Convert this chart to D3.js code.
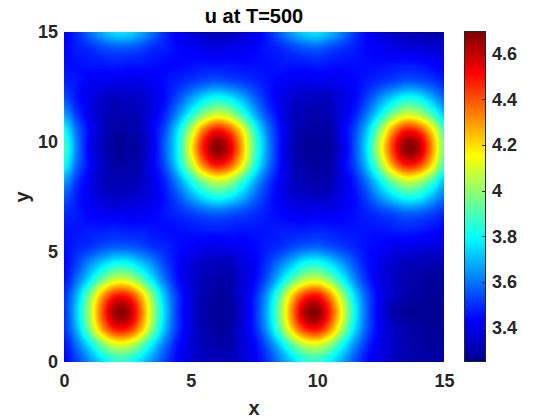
<!DOCTYPE html>
<html>
<head>
<meta charset="utf-8">
<style>
html,body{margin:0;padding:0;background:#fff;}
svg{display:block;}
text{font-family:"Liberation Sans",Arial,sans-serif;font-weight:bold;}
</style>
<script src="https://cdnjs.cloudflare.com/ajax/libs/d3/7.8.5/d3.min.js"></script>
</head>
<body>
<div id="chart"></div>
<script>
const titleText = "u at T=500";
const xLabel = "x";
const yLabel = "y";
const axisTicks = [0, 5, 10, 15];
const colorbarTicks = [3.4, 3.6, 3.8, 4, 4.2, 4.4, 4.6];
const colorDomain = [3.255, 4.695];
const jetStops = ["#00008f", "#0000ff", "#00ffff", "#ffff00", "#ff0000", "#800000"];
const jetPositions = [0, 0.125, 0.375, 0.625, 0.875, 1];
const xExtent = [0, 15];
const yExtent = [0, 15];
// u values. Columns run x = 0 to 15, rows run y = 0 (first) to 15 (last).
const uRows = [
[3.43,3.52,3.64,3.75,3.84,3.84,3.75,3.64,3.52,3.43,3.37,3.33,3.33,3.33,3.36,3.42,3.50,3.61,3.73,3.83,3.85,3.78,3.67,3.54,3.44,3.39,3.34,3.31,3.30,3.29,3.29],
[3.45,3.59,3.76,3.95,4.08,4.08,3.95,3.76,3.59,3.45,3.37,3.32,3.30,3.30,3.36,3.43,3.55,3.72,3.91,4.05,4.09,3.98,3.80,3.62,3.48,3.39,3.34,3.31,3.29,3.28,3.28],
[3.50,3.69,3.97,4.28,4.48,4.48,4.28,3.97,3.69,3.50,3.38,3.31,3.28,3.29,3.37,3.47,3.65,3.91,4.22,4.45,4.50,4.32,4.02,3.74,3.54,3.41,3.34,3.30,3.28,3.27,3.27],
[3.50,3.73,4.03,4.39,4.65,4.65,4.39,4.03,3.73,3.50,3.38,3.30,3.27,3.28,3.35,3.48,3.68,3.97,4.33,4.63,4.68,4.45,4.12,3.79,3.55,3.40,3.30,3.27,3.27,3.26,3.26],
[3.50,3.69,3.97,4.28,4.48,4.48,4.28,3.97,3.69,3.50,3.38,3.31,3.28,3.29,3.37,3.47,3.65,3.91,4.22,4.45,4.50,4.32,4.02,3.74,3.54,3.41,3.34,3.30,3.28,3.27,3.27],
[3.45,3.59,3.76,3.95,4.08,4.08,3.95,3.76,3.59,3.45,3.37,3.32,3.30,3.30,3.36,3.43,3.55,3.72,3.91,4.05,4.09,3.98,3.80,3.62,3.48,3.39,3.34,3.31,3.29,3.28,3.28],
[3.44,3.52,3.63,3.72,3.80,3.80,3.72,3.63,3.52,3.44,3.38,3.34,3.33,3.33,3.38,3.42,3.50,3.60,3.70,3.80,3.82,3.75,3.65,3.54,3.45,3.40,3.35,3.33,3.32,3.31,3.31],
[3.45,3.48,3.50,3.54,3.56,3.56,3.54,3.50,3.48,3.45,3.43,3.41,3.40,3.41,3.42,3.44,3.47,3.49,3.53,3.56,3.57,3.54,3.51,3.48,3.45,3.43,3.41,3.40,3.39,3.38,3.37],
[3.46,3.46,3.47,3.47,3.48,3.47,3.47,3.46,3.45,3.45,3.46,3.47,3.47,3.47,3.46,3.46,3.46,3.47,3.47,3.47,3.48,3.47,3.46,3.46,3.46,3.46,3.47,3.48,3.47,3.45,3.43],
[3.49,3.47,3.43,3.42,3.41,3.41,3.41,3.43,3.46,3.49,3.52,3.55,3.57,3.55,3.53,3.50,3.47,3.44,3.42,3.41,3.42,3.41,3.43,3.45,3.48,3.51,3.54,3.57,3.56,3.53,3.49],
[3.56,3.47,3.41,3.36,3.34,3.35,3.36,3.40,3.46,3.55,3.66,3.76,3.82,3.79,3.70,3.59,3.49,3.42,3.37,3.35,3.34,3.35,3.40,3.45,3.54,3.65,3.75,3.82,3.80,3.70,3.60],
[3.67,3.51,3.41,3.34,3.31,3.31,3.33,3.40,3.49,3.64,3.82,3.99,4.09,4.05,3.89,3.70,3.54,3.43,3.34,3.31,3.30,3.32,3.39,3.48,3.62,3.80,3.98,4.09,4.05,3.91,3.72],
[3.82,3.59,3.44,3.34,3.29,3.29,3.32,3.42,3.55,3.77,4.05,4.35,4.51,4.43,4.19,3.87,3.63,3.46,3.34,3.29,3.28,3.30,3.41,3.54,3.74,4.02,4.32,4.50,4.45,4.22,3.91],
[3.88,3.62,3.42,3.33,3.27,3.27,3.30,3.40,3.58,3.80,4.15,4.49,4.68,4.59,4.29,3.93,3.66,3.46,3.33,3.27,3.27,3.29,3.39,3.55,3.79,4.12,4.45,4.68,4.63,4.33,3.97],
[3.82,3.59,3.44,3.34,3.29,3.29,3.32,3.42,3.55,3.77,4.05,4.35,4.51,4.43,4.19,3.87,3.63,3.46,3.34,3.29,3.28,3.30,3.41,3.54,3.74,4.02,4.32,4.50,4.45,4.22,3.91],
[3.67,3.51,3.41,3.34,3.31,3.31,3.33,3.40,3.49,3.64,3.82,3.99,4.09,4.05,3.89,3.70,3.54,3.43,3.34,3.31,3.30,3.32,3.39,3.48,3.62,3.80,3.98,4.09,4.05,3.91,3.72],
[3.55,3.46,3.40,3.35,3.33,3.34,3.35,3.39,3.45,3.54,3.65,3.75,3.81,3.78,3.69,3.58,3.48,3.41,3.36,3.34,3.33,3.34,3.39,3.44,3.53,3.64,3.74,3.81,3.79,3.69,3.59],
[3.48,3.46,3.42,3.41,3.40,3.40,3.40,3.42,3.45,3.48,3.51,3.54,3.56,3.54,3.52,3.49,3.46,3.43,3.41,3.40,3.41,3.40,3.42,3.44,3.47,3.50,3.53,3.56,3.55,3.52,3.48],
[3.45,3.45,3.46,3.46,3.47,3.46,3.46,3.45,3.44,3.44,3.45,3.46,3.46,3.46,3.45,3.45,3.45,3.46,3.46,3.46,3.47,3.46,3.45,3.45,3.45,3.45,3.46,3.47,3.46,3.44,3.42],
[3.44,3.47,3.49,3.53,3.55,3.55,3.53,3.49,3.47,3.44,3.42,3.40,3.39,3.40,3.41,3.43,3.46,3.48,3.52,3.55,3.56,3.53,3.50,3.47,3.44,3.42,3.40,3.39,3.38,3.37,3.36],
[3.42,3.49,3.59,3.68,3.75,3.75,3.68,3.59,3.49,3.42,3.37,3.34,3.33,3.33,3.36,3.40,3.47,3.57,3.66,3.74,3.76,3.70,3.61,3.51,3.43,3.38,3.34,3.32,3.31,3.30,3.30]
];

const width = 560, height = 420;
const plot = {left: 64, right: 444, top: 32, bottom: 362};
const bar = {left: 465, right: 485, top: 32, bottom: 361};

const svg = d3.select("#chart").append("svg").attr("width", width).attr("height", height);

const x = d3.scaleLinear().domain(xExtent).range([plot.left, plot.right]);
const y = d3.scaleLinear().domain(yExtent).range([plot.bottom, plot.top]);
const jetT = d3.scaleLinear().domain(jetPositions).range(jetStops).interpolate(d3.interpolateRgb);
const colorT = d3.scaleLinear().domain(colorDomain).range([0, 1]).clamp(true);
const color = v => jetT(colorT(v));

// Column and row index scales: the table's cells map evenly over the axes.
const colIndex = d3.scaleLinear().domain(xExtent).range([0, uRows[0].length - 1]);
const rowIndex = d3.scaleLinear().domain(yExtent).range([0, uRows.length - 1]);

function cubic(a, b, c, d, t) {
  return b + 0.5 * t * (c - a + t * (2 * a - 5 * b + 4 * c - d + t * (3 * (b - c) + d - a)));
}
function sample(xv, yv) {
  const cx = colIndex(xv), cy = rowIndex(yv);
  const i = Math.min(Math.floor(cx), uRows[0].length - 2), j = Math.min(Math.floor(cy), uRows.length - 2);
  const tx = cx - i, ty = cy - j;
  const at = (r, c) => uRows[Math.max(0, Math.min(uRows.length - 1, r))][Math.max(0, Math.min(uRows[0].length - 1, c))];
  const row = r => cubic(at(r, i - 1), at(r, i), at(r, i + 1), at(r, i + 2), tx);
  return cubic(row(j - 1), row(j), row(j + 1), row(j + 2), ty);
}

// Field image
const pw = plot.right - plot.left, ph = plot.bottom - plot.top;
const field = document.createElement("canvas");
field.width = pw; field.height = ph;
const fctx = field.getContext("2d");
const img = fctx.createImageData(pw, ph);
for (let py = 0; py < ph; py++) {
  for (let px = 0; px < pw; px++) {
    const c = d3.rgb(color(sample(x.invert(plot.left + px + 0.5), y.invert(plot.top + py + 0.5))));
    const o = 4 * (py * pw + px);
    img.data[o] = c.r; img.data[o + 1] = c.g; img.data[o + 2] = c.b; img.data[o + 3] = 255;
  }
}
fctx.putImageData(img, 0, 0);
svg.append("image").attr("x", plot.left).attr("y", plot.top).attr("width", pw).attr("height", ph)
  .attr("href", field.toDataURL());

// Axes
const textCol = "#262626";
const fontStack = '"Liberation Sans",Arial,sans-serif';
const xAxis = svg.append("g").attr("transform", `translate(0,${plot.bottom})`)
  .call(d3.axisBottom(x).tickValues(axisTicks).tickSize(0).tickPadding(12));
const yAxis = svg.append("g").attr("transform", `translate(${plot.left},0)`)
  .call(d3.axisLeft(y).tickValues(axisTicks).tickSize(0).tickPadding(6));
[xAxis, yAxis].forEach(g => {
  g.select(".domain").remove();
  g.selectAll("text").attr("fill", textCol).style("font-size", "18px").style("font-family", fontStack).style("font-weight", "bold");
});

// Title and labels
svg.append("text").attr("x", 254).attr("y", 22.5).attr("text-anchor", "middle").attr("fill", "#000").style("font-size", "20px").text(titleText);
svg.append("text").attr("x", 254).attr("y", 415).attr("text-anchor", "middle").attr("fill", textCol).style("font-size", "20px").text(xLabel);
svg.append("text").attr("transform", "translate(29,197) rotate(-90)").attr("text-anchor", "middle").attr("fill", textCol).style("font-size", "20px").text(yLabel);

// Colorbar
const cScale = d3.scaleLinear().domain(colorDomain).range([bar.bottom, bar.top]);
const barH = bar.bottom - bar.top;
const strip = document.createElement("canvas");
strip.width = 1; strip.height = barH;
const sctx = strip.getContext("2d");
for (let i = 0; i < barH; i++) {
  sctx.fillStyle = color(cScale.invert(bar.top + i + 0.5));
  sctx.fillRect(0, i, 1, 1);
}
svg.append("image").attr("x", bar.left).attr("y", bar.top).attr("width", bar.right - bar.left).attr("height", barH)
  .attr("preserveAspectRatio", "none").attr("href", strip.toDataURL());
svg.append("rect").attr("x", bar.left - 0.5).attr("y", bar.top - 0.5)
  .attr("width", bar.right - bar.left + 1).attr("height", barH + 1)
  .attr("fill", "none").attr("stroke", "#262626").attr("stroke-width", 1);
const cAxis = svg.append("g").attr("transform", `translate(${bar.right},0)`)
  .call(d3.axisRight(cScale).tickValues(colorbarTicks).tickFormat(d3.format("~g")).tickSize(0).tickPadding(7));
cAxis.select(".domain").remove();
cAxis.selectAll("text").attr("fill", textCol).style("font-size", "18px").style("font-family", fontStack).style("font-weight", "bold");
svg.append("g").selectAll("line").data(colorbarTicks).join("line")
  .attr("x1", bar.right - 3).attr("x2", bar.right)
  .attr("y1", d => Math.round(cScale(d)) + 0.5).attr("y2", d => Math.round(cScale(d)) + 0.5)
  .attr("stroke", "#262626");
</script>
</body>
</html>
